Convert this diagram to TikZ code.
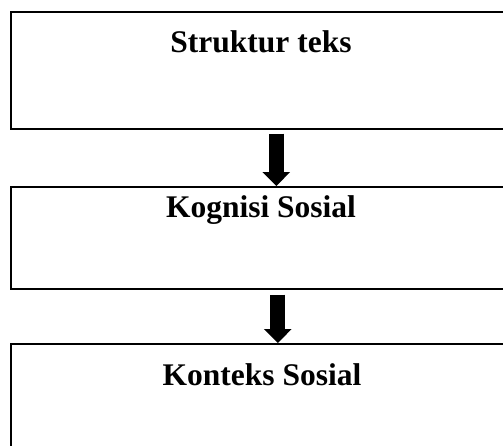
\documentclass[tikz,border=0pt]{standalone}
\usepackage{fontspec}
\setmainfont{Liberation Serif}
\usetikzlibrary{arrows.meta}
\begin{document}
\begin{tikzpicture}[x=1pt,y=-1pt,
  box/.style={draw=black,line width=1.6pt,rectangle,inner sep=0pt,anchor=north west},
  lbl/.style={font=\bfseries\fontsize{31.5}{36}\selectfont,anchor=base,inner sep=0pt},
  fat/.style={line width=15pt,-{Triangle[width=27pt,length=14pt]}}]
\clip (0,0) rectangle (503,445);
\useasboundingbox (0,0) rectangle (503,445);
\node[box,minimum width=500pt,minimum height=117pt] (b1) at (10,11) {};
\node[box,minimum width=500pt,minimum height=102pt] (b2) at (10,186) {};
\node[box,minimum width=500pt,minimum height=130pt] (b3) at (10,343) {};
\node[lbl] (t1) at (261,52) {Struktur teks};
\node[lbl] (t2) at (261,217) {Kognisi Sosial};
\node[lbl] (t3) at (262,385) {Konteks Sosial};
\draw[fat] ([xshift=15.5pt,yshift=-4pt]b1.south) -- ([xshift=15.5pt]b2.north);
\draw[fat] ([xshift=17pt,yshift=-5pt]b2.south) -- ([xshift=17pt]b3.north);
\end{tikzpicture}
\end{document}
